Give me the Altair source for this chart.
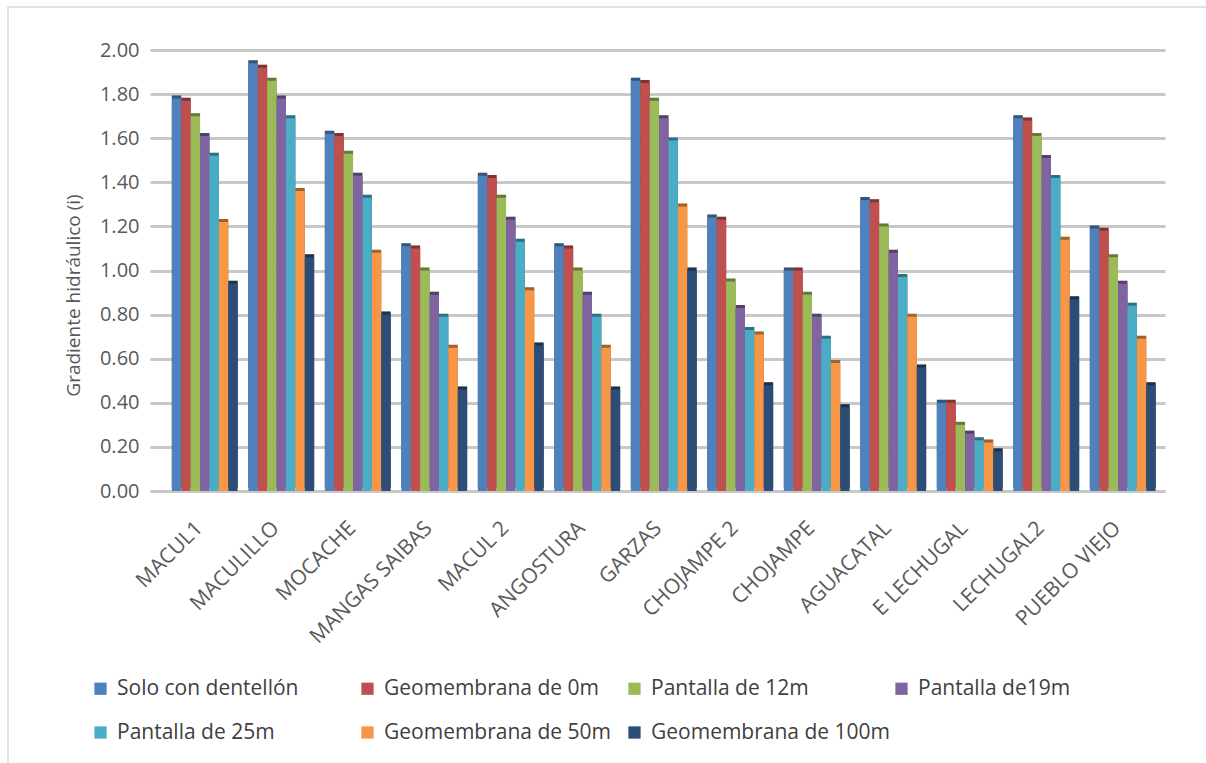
import altair as alt
import pandas as pd

# Stations along the x axis
stations = [
    "MACUL1", "MACULILLO", "MOCACHE", "MANGAS SAIBAS", "MACUL 2", "ANGOSTURA",
    "GARZAS", "CHOJAMPE 2", "CHOJAMPE", "AGUACATAL", "E LECHUGAL", "LECHUGAL2",
    "PUEBLO VIEJO",
]

# Scenario names (legend order)
scenarios = [
    "Solo con dentellón", "Geomembrana de 0m", "Pantalla de 12m", "Pantalla de19m",
    "Pantalla de 25m", "Geomembrana de 50m", "Geomembrana de 100m",
]

# Hydraulic gradient per scenario, one value per station
solo_dentellon = [1.78, 1.94, 1.62, 1.11, 1.43, 1.11, 1.86, 1.24, 1.00, 1.32, 0.40, 1.69, 1.19]
geomembrana_0 = [1.77, 1.92, 1.61, 1.10, 1.42, 1.10, 1.85, 1.23, 1.00, 1.31, 0.40, 1.68, 1.18]
pantalla_12 = [1.70, 1.86, 1.53, 1.00, 1.33, 1.00, 1.77, 0.95, 0.89, 1.20, 0.30, 1.61, 1.06]
pantalla_19 = [1.61, 1.78, 1.43, 0.89, 1.23, 0.89, 1.69, 0.83, 0.79, 1.08, 0.26, 1.51, 0.94]
pantalla_25 = [1.52, 1.69, 1.33, 0.79, 1.13, 0.79, 1.59, 0.73, 0.69, 0.97, 0.23, 1.42, 0.84]
geomembrana_50 = [1.22, 1.36, 1.08, 0.65, 0.91, 0.65, 1.29, 0.71, 0.58, 0.79, 0.22, 1.14, 0.69]
geomembrana_100 = [0.94, 1.06, 0.80, 0.46, 0.66, 0.46, 1.00, 0.48, 0.38, 0.56, 0.18, 0.87, 0.48]

series_values = [solo_dentellon, geomembrana_0, pantalla_12, pantalla_19,
                 pantalla_25, geomembrana_50, geomembrana_100]

colors = ["#4F81BD", "#C0504D", "#9BBB59", "#8064A2", "#4BACC6", "#F79646", "#2C4D75"]

rows = []
for i, st in enumerate(stations):
    for name, vals in zip(scenarios, series_values):
        rows.append({"estacion": st, "escenario": name, "valor": vals[i]})
df = pd.DataFrame(rows)

FONT = "Open Sans"
TEXT = "#595959"

x_enc = alt.X(
    "estacion:N", sort=stations, title=None,
    scale=alt.Scale(paddingInner=0.14, paddingOuter=0.204, align=0.7),
    axis=alt.Axis(labelAngle=315, labelFontSize=21, labelColor=TEXT, labelFont=FONT,
                  ticks=False, domainColor="#c8c8c8", domainWidth=3, labelPadding=26,
                  labelAlign="right", labelBaseline="top", labelOffset=-13),
)
y_enc = alt.Y(
    "valor:Q", title="Gradiente hidráulico (i)",
    scale=alt.Scale(domain=[0, 2], nice=False),
    axis=alt.Axis(values=[round(v * 0.2, 1) for v in range(11)], format=".2f",
                  labelFontSize=20, labelColor=TEXT, labelFont=FONT, ticks=False,
                  domain=False, gridColor="#c8c8c8", gridWidth=3, labelPadding=11,
                  titleFontSize=19, titleFont=FONT, titleColor=TEXT, titleFontWeight="normal",
                  titlePadding=16, titleY=245),
)
x_off = alt.XOffset("escenario:N", sort=scenarios)
color_enc = alt.Color(
    "escenario:N", scale=alt.Scale(domain=scenarios, range=colors), sort=scenarios, title=None,
    legend=alt.Legend(orient="none", legendX=-60, legendY=628, columns=4, padding=0,
                      gridAlign="all", columnPadding=-3, rowPadding=22,
                      symbolType="square", symbolSize=150, symbolStrokeWidth=0,
                      labelFontSize=21, labelFont=FONT, labelColor="#404040",
                      labelLimit=300, labelOffset=6, direction="horizontal"),
)

# side/top faces giving the bars some depth
depth = alt.Chart(df).mark_bar(xOffset=3, yOffset=-3).encode(
    x=x_enc, y=y_enc, xOffset=x_off, color=color_enc,
)
depth_shade = alt.Chart(df).mark_bar(xOffset=3, yOffset=-3, color="black", opacity=0.35).encode(
    x=x_enc, y=y_enc, xOffset=x_off,
)
bars = alt.Chart(df).mark_bar().encode(
    x=x_enc, y=y_enc, xOffset=x_off, color=color_enc,
)

frame = alt.Chart(pd.DataFrame({"a": [0]})).mark_rect(
    fill=None, stroke="#d9d9d9", strokeWidth=1.5
).encode(x=alt.value(-142), x2=alt.value(1070), y=alt.value(-43), y2=alt.value(730))

chart = alt.layer(frame, depth, depth_shade, bars).properties(
    width=1015, height=441,
    padding={"left": 150, "top": 50, "right": 41, "bottom": 272},
    autosize=alt.AutoSizeParams(type="none"),
    background="white",
).configure_view(stroke=None)

chart.save("out.html", embed_options={"renderer": "svg", "actions": False})
